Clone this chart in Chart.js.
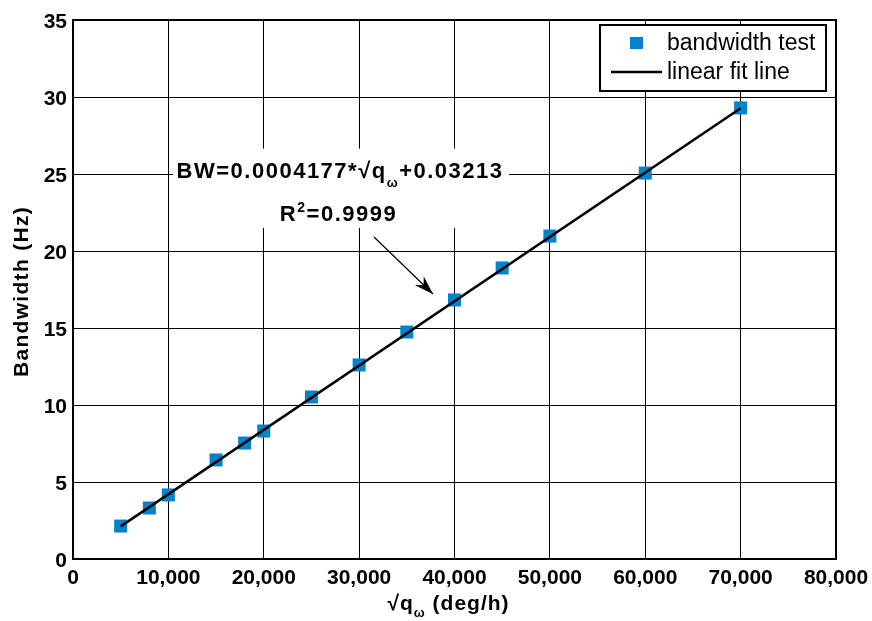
<!DOCTYPE html>
<html>
<head>
<meta charset="utf-8">
<script src="https://cdn.jsdelivr.net/npm/chart.js@4"></script>
<style>
  html, body { margin: 0; padding: 0; background: #fff; }
  #wrap { width: 872px; height: 621px; }
</style>
</head>
<body>
<div id="wrap"><canvas id="bwChart" width="872" height="621"></canvas></div>
<script>
// measured points (sqrt q_w in deg/h, bandwidth in Hz)
const qValues = [5000, 8000, 10000, 15000, 18000, 20000, 25000, 30000, 35000, 40000, 45000, 50000, 60000, 70000];
const bwValues = [2.14, 3.31, 4.16, 6.43, 7.53, 8.31, 10.52, 12.6, 14.74, 16.82, 18.9, 20.97, 25.06, 29.29];

// fit line end points
const fitX = [5000, 70000];
const fitY = [2.12, 29.27];

const xTicks = [0, 10000, 20000, 30000, 40000, 50000, 60000, 70000, 80000];
const yTicks = [0, 5, 10, 15, 20, 25, 30, 35];

const seriesNames = ["bandwidth test", "linear fit line"];
const yTitle = "Bandwidth (Hz)";
const eqText = "BW=0.0004177*√q";
const eqTail = "+0.03213";
const r2Text = "=0.9999";

const blue = "#0283cb";
const sans = "'Liberation Sans', Arial, sans-serif";

// draw text made of pieces: [text, size, dy]
function drawPieces(ctx, pieces, cx, y, spacing) {
    ctx.letterSpacing = spacing + "px";
    let total = 0;
    const widths = pieces.map(p => {
        ctx.font = "bold " + p[1] + "px " + sans;
        const w = ctx.measureText(p[0]).width;
        total += w;
        return w;
    });
    let x = cx - total / 2;
    pieces.forEach((p, i) => {
        ctx.font = "bold " + p[1] + "px " + sans;
        ctx.fillText(p[0], x, y + p[2]);
        x += widths[i];
    });
    ctx.letterSpacing = "0px";
}

// text, border, legend, annotation
const extras = {
    id: "extras",
    afterDraw(chart) {
        const ctx = chart.ctx;
        const a = chart.chartArea;
        const xs = chart.scales.x, ys = chart.scales.y;
        ctx.save();

        // box
        ctx.strokeStyle = "#000";
        ctx.lineWidth = 2;
        ctx.strokeRect(a.left, a.top, a.right - a.left, a.bottom - a.top);

        // x title with subscript
        ctx.fillStyle = "#000";
        ctx.textAlign = "left";
        ctx.textBaseline = "alphabetic";
        drawPieces(ctx, [["√q", 21, 0], ["ω", 13, 7], [" (deg/h)", 21, 0]], (a.left + a.right) / 2 - 6, 610, 1);

        // y title
        ctx.save();
        ctx.translate(22, (a.top + a.bottom) / 2 + 2);
        ctx.rotate(-Math.PI / 2);
        ctx.textBaseline = "middle";
        drawPieces(ctx, [[yTitle, 21, 0]], 0, 0, 1.3);
        ctx.restore();

        // annotation, white patch behind it
        const bx0 = xs.getPixelForValue(10500), bx1 = xs.getPixelForValue(45700);
        const by0 = ys.getPixelForValue(26.65), by1 = ys.getPixelForValue(21.5);
        ctx.fillStyle = "#fff";
        ctx.fillRect(bx0, by0, bx1 - bx0, by1 - by0);
        ctx.fillStyle = "#000";
        ctx.textBaseline = "alphabetic";
        const ex = xs.getPixelForValue(28000), ey = ys.getPixelForValue(24.76);
        drawPieces(ctx, [[eqText, 22, 0], ["ω", 13, 9], [eqTail, 22, 0]], ex, ey, 1.5);
        const rx = xs.getPixelForValue(27840), ry = ys.getPixelForValue(21.95);
        drawPieces(ctx, [["R", 22, 0], ["2", 14, -9], [r2Text, 22, 0]], rx, ry, 1.5);

        // arrow
        const ax0 = xs.getPixelForValue(31560), ay0 = ys.getPixelForValue(20.91);
        const ax1 = xs.getPixelForValue(37745), ay1 = ys.getPixelForValue(17.21);
        ctx.lineWidth = 1.2;
        ctx.beginPath();
        ctx.moveTo(ax0, ay0);
        ctx.lineTo(ax1, ay1);
        ctx.stroke();
        const ang = Math.atan2(ay1 - ay0, ax1 - ax0);
        ctx.beginPath();
        ctx.moveTo(ax1, ay1);
        ctx.lineTo(ax1 - 20 * Math.cos(ang - 0.32), ay1 - 20 * Math.sin(ang - 0.32));
        ctx.lineTo(ax1 - 13 * Math.cos(ang), ay1 - 13 * Math.sin(ang));
        ctx.lineTo(ax1 - 20 * Math.cos(ang + 0.32), ay1 - 20 * Math.sin(ang + 0.32));
        ctx.closePath();
        ctx.fill();

        // legend
        const lx = a.right - 236, ly = a.top + 5;
        ctx.fillStyle = "#fff";
        ctx.fillRect(lx, ly, 226, 66);
        ctx.strokeStyle = "#000";
        ctx.lineWidth = 2;
        ctx.strokeRect(lx, ly, 226, 66);
        ctx.fillStyle = blue;
        ctx.fillRect(lx + 30, ly + 12, 13, 12);
        ctx.lineWidth = 2.5;
        ctx.beginPath();
        ctx.moveTo(lx + 11, ly + 47);
        ctx.lineTo(lx + 62, ly + 47);
        ctx.stroke();
        ctx.fillStyle = "#000";
        ctx.font = "23px " + sans;
        ctx.textBaseline = "middle";
        ctx.fillText(seriesNames[0], lx + 67, ly + 19);
        ctx.fillText(seriesNames[1], lx + 67, ly + 48);

        ctx.restore();
    }
};

new Chart(document.getElementById("bwChart"), {
    type: "scatter",
    data: {
        datasets: [
            {
                label: seriesNames[0],
                data: qValues.map((q, i) => ({ x: q, y: bwValues[i] })),
                pointStyle: "rect",
                pointRadius: 9.2,
                pointHoverRadius: 9.2,
                backgroundColor: blue,
                borderColor: blue,
                borderWidth: 0,
                order: 2
            },
            {
                label: seriesNames[1],
                data: fitX.map((q, i) => ({ x: q, y: fitY[i] })),
                showLine: true,
                borderColor: "#000",
                borderWidth: 2.5,
                pointRadius: 0,
                order: 1
            }
        ]
    },
    options: {
        responsive: false,
        animation: false,
        events: [],
        layout: { padding: { top: 20, right: 36, left: 0, bottom: 0 } },
        plugins: {
            legend: { display: false },
            tooltip: { enabled: false }
        },
        scales: {
            x: {
                type: "linear",
                min: 0, max: 80000,
                afterBuildTicks: s => { s.ticks = xTicks.map(v => ({ value: v })); },
                afterFit: s => { s.height = 62; s.paddingLeft = 0; s.paddingRight = 0; },
                grid: { color: "#000", lineWidth: 1, drawTicks: false },
                border: { color: "#000", width: 2 },
                ticks: {
                    color: "#000",
                    padding: 7,
                    font: { family: sans, size: 21, weight: "bold" },
                    callback: v => v.toLocaleString("en-US")
                }
            },
            y: {
                min: 0, max: 35,
                afterBuildTicks: s => { s.ticks = yTicks.map(v => ({ value: v })); },
                afterFit: s => { s.width = 73; s.paddingTop = 0; s.paddingBottom = 0; },
                grid: { color: "#000", lineWidth: 1, drawTicks: false },
                border: { color: "#000", width: 2 },
                ticks: {
                    color: "#000",
                    padding: 6,
                    labelOffset: 2,
                    font: { family: sans, size: 21, weight: "bold" }
                }
            }
        }
    },
    plugins: [extras]
});
</script>
</body>
</html>
